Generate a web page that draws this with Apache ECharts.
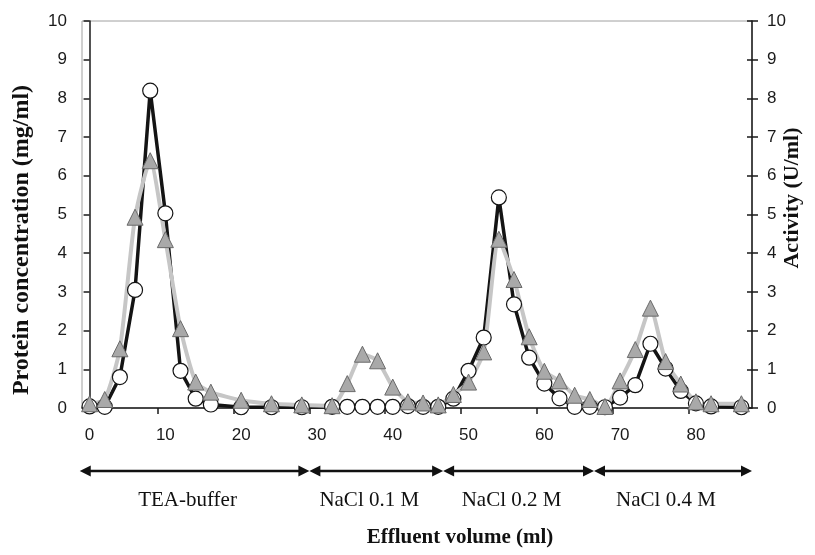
<!DOCTYPE html>
<html><head><meta charset="utf-8">
<script src="https://cdn.jsdelivr.net/npm/echarts@6/dist/echarts.min.js"></script>
<style>html,body{margin:0;padding:0;background:#fff}#c{width:815px;height:555px}</style>
</head><body><div id="c"></div>
<script>
// Effluent volume (ml) of each fraction
const volume = [0,2,4,6,8,10,12,14,16,20,24,28,32,34,36,38,40,42,44,46,48,50,52,54,56,58,60,62,64,66,68,70,72,74,76,78,80,82,86];
// Protein concentration (mg/ml) - open circles, black line
const protein = [0.04,0.03,0.80,3.05,8.2,5.03,0.96,0.24,0.09,0.02,0.02,0.02,0.03,0.03,0.03,0.03,0.03,0.05,0.03,0.03,0.24,0.96,1.82,5.44,2.68,1.30,0.63,0.25,0.03,0.03,0.02,0.27,0.59,1.66,1.02,0.44,0.12,0.04,0.02];
// Activity (U/ml) - grey triangles, grey line
const activity = [0.11,0.22,1.53,4.93,6.39,4.35,2.05,0.67,0.41,0.20,0.11,0.08,0.06,0.63,1.39,1.22,0.54,0.16,0.13,0.08,0.35,0.67,1.45,4.36,3.32,1.84,0.95,0.70,0.33,0.22,0.04,0.70,1.51,2.58,1.20,0.62,0.16,0.11,0.11];
// x tick labels and tick marks
const xTickLabels = [0,10,20,30,40,50,60,70,80];
const xTickMarks = [9,19,29,39,49,59,69,79];
// elution steps and their volume boundaries (ml)
const steps = ['TEA-buffer','NaCl 0.1 M','NaCl 0.2 M','NaCl 0.4 M'];
const stepBounds = [-1.3,29,46.65,66.55,87.4];

const X_MIN = -1, X_MAX = 87.4;
const axisColor = '#1a1a1a';
const tickFont = {fontFamily:'Liberation Sans', fontSize:17, color:'#1a1a1a'};

const chart = echarts.init(document.getElementById('c'));
chart.setOption({
  animation:false,
  backgroundColor:'#fff',
  grid:[
    {left:82, right:63, top:21, bottom:147, show:true, borderColor:'#a0a0a0', borderWidth:1, backgroundColor:'transparent'},
    {left:82, right:63, top:440, height:80}
  ],
  xAxis:[
    {type:'value', gridIndex:0, min:X_MIN, max:X_MAX,
     axisLine:{show:true, onZero:false, lineStyle:{color:axisColor, width:1.5}},
     axisTick:{show:true, customValues:xTickMarks, length:6, lineStyle:{color:axisColor, width:1.5}},
     axisLabel:Object.assign({customValues:xTickLabels, margin:19}, tickFont),
     splitLine:{show:false}},
    {type:'value', gridIndex:1, min:X_MIN, max:X_MAX, show:false}
  ],
  yAxis:[
    {type:'value', gridIndex:0, min:0, max:10, interval:1, position:'left',
     axisLine:{show:true, lineStyle:{color:axisColor, width:1.5}},
     axisTick:{show:true, length:6, lineStyle:{color:axisColor, width:1.5}},
     axisLabel:Object.assign({margin:15}, tickFont), splitLine:{show:false}},
    {type:'value', gridIndex:0, min:0, max:10, interval:1, position:'right',
     axisLine:{show:true, lineStyle:{color:axisColor, width:1.5}},
     axisTick:{show:true, length:6, lineStyle:{color:axisColor, width:1.5}},
     axisLabel:Object.assign({margin:15}, tickFont), splitLine:{show:false}},
    {type:'value', gridIndex:0, min:0, max:10, interval:1, position:'right',
     axisLine:{show:false}, axisTick:{show:true, inside:true, length:5, lineStyle:{color:axisColor, width:1.5}},
     axisLabel:{show:false}, splitLine:{show:false}},
    {type:'value', gridIndex:1, min:0, max:80, inverse:true, show:false}
  ],
  graphic:[
    {type:'text', x:21.7, y:240, rotation:Math.PI/2,
     style:{text:'Protein concentration (mg/ml)', font:'bold 24px "Liberation Serif"', fill:'#111', align:'center', verticalAlign:'middle'}},
    {type:'text', x:792, y:198, rotation:Math.PI/2,
     style:{text:'Activity (U/ml)', font:'bold 22px "Liberation Serif"', fill:'#111', align:'center', verticalAlign:'middle'}},
    {type:'text', x:460, y:538,
     style:{text:'Effluent volume (ml)', font:'bold 21px "Liberation Serif"', fill:'#111', align:'center', verticalAlign:'middle'}}
  ],
  series:[
    {type:'line', name:'Protein', xAxisIndex:0, yAxisIndex:0,
     data:volume.map((v,i)=>[v, protein[i]]),
     symbol:'circle', symbolSize:15, showAllSymbol:true,
     lineStyle:{color:'#141414', width:3.5},
     itemStyle:{color:'#ffffff', borderColor:'#141414', borderWidth:1.2}},
    {type:'line', name:'Activity', xAxisIndex:0, yAxisIndex:1,
     data:volume.map((v,i)=>[v, activity[i]]),
     symbol:'triangle', symbolSize:16, showAllSymbol:true, smooth:0.2,
     lineStyle:{color:'#c6c6c6', width:4},
     itemStyle:{color:'#a9a9a9', borderColor:'#6a6a6a', borderWidth:1}},
    {type:'custom', xAxisIndex:1, yAxisIndex:3, clip:false,
     data:steps.map((s,i)=>[stepBounds[i], stepBounds[i+1]]),
     renderItem:function(params, api){
       const a = api.coord([api.value(0), 31]);
       const b = api.coord([api.value(1), 31]);
       const m = api.coord([(api.value(0)+api.value(1))/2, 60]);
       const hl = 11, hw = 5.5;
       return {type:'group', children:[
         {type:'line', shape:{x1:a[0]+hl-1, y1:a[1], x2:b[0]-hl+1, y2:b[1]}, style:{stroke:'#111', lineWidth:2.6}},
         {type:'polygon', shape:{points:[[a[0],a[1]],[a[0]+hl,a[1]-hw],[a[0]+hl,a[1]+hw]]}, style:{fill:'#111'}},
         {type:'polygon', shape:{points:[[b[0],b[1]],[b[0]-hl,b[1]-hw],[b[0]-hl,b[1]+hw]]}, style:{fill:'#111'}},
         {type:'text', x:m[0]-7, y:m[1], style:{text:steps[params.dataIndex], font:'21px "Liberation Serif"', fill:'#111', align:'center', verticalAlign:'middle'}}
       ]};
     }}
  ]
});
</script></body></html>
